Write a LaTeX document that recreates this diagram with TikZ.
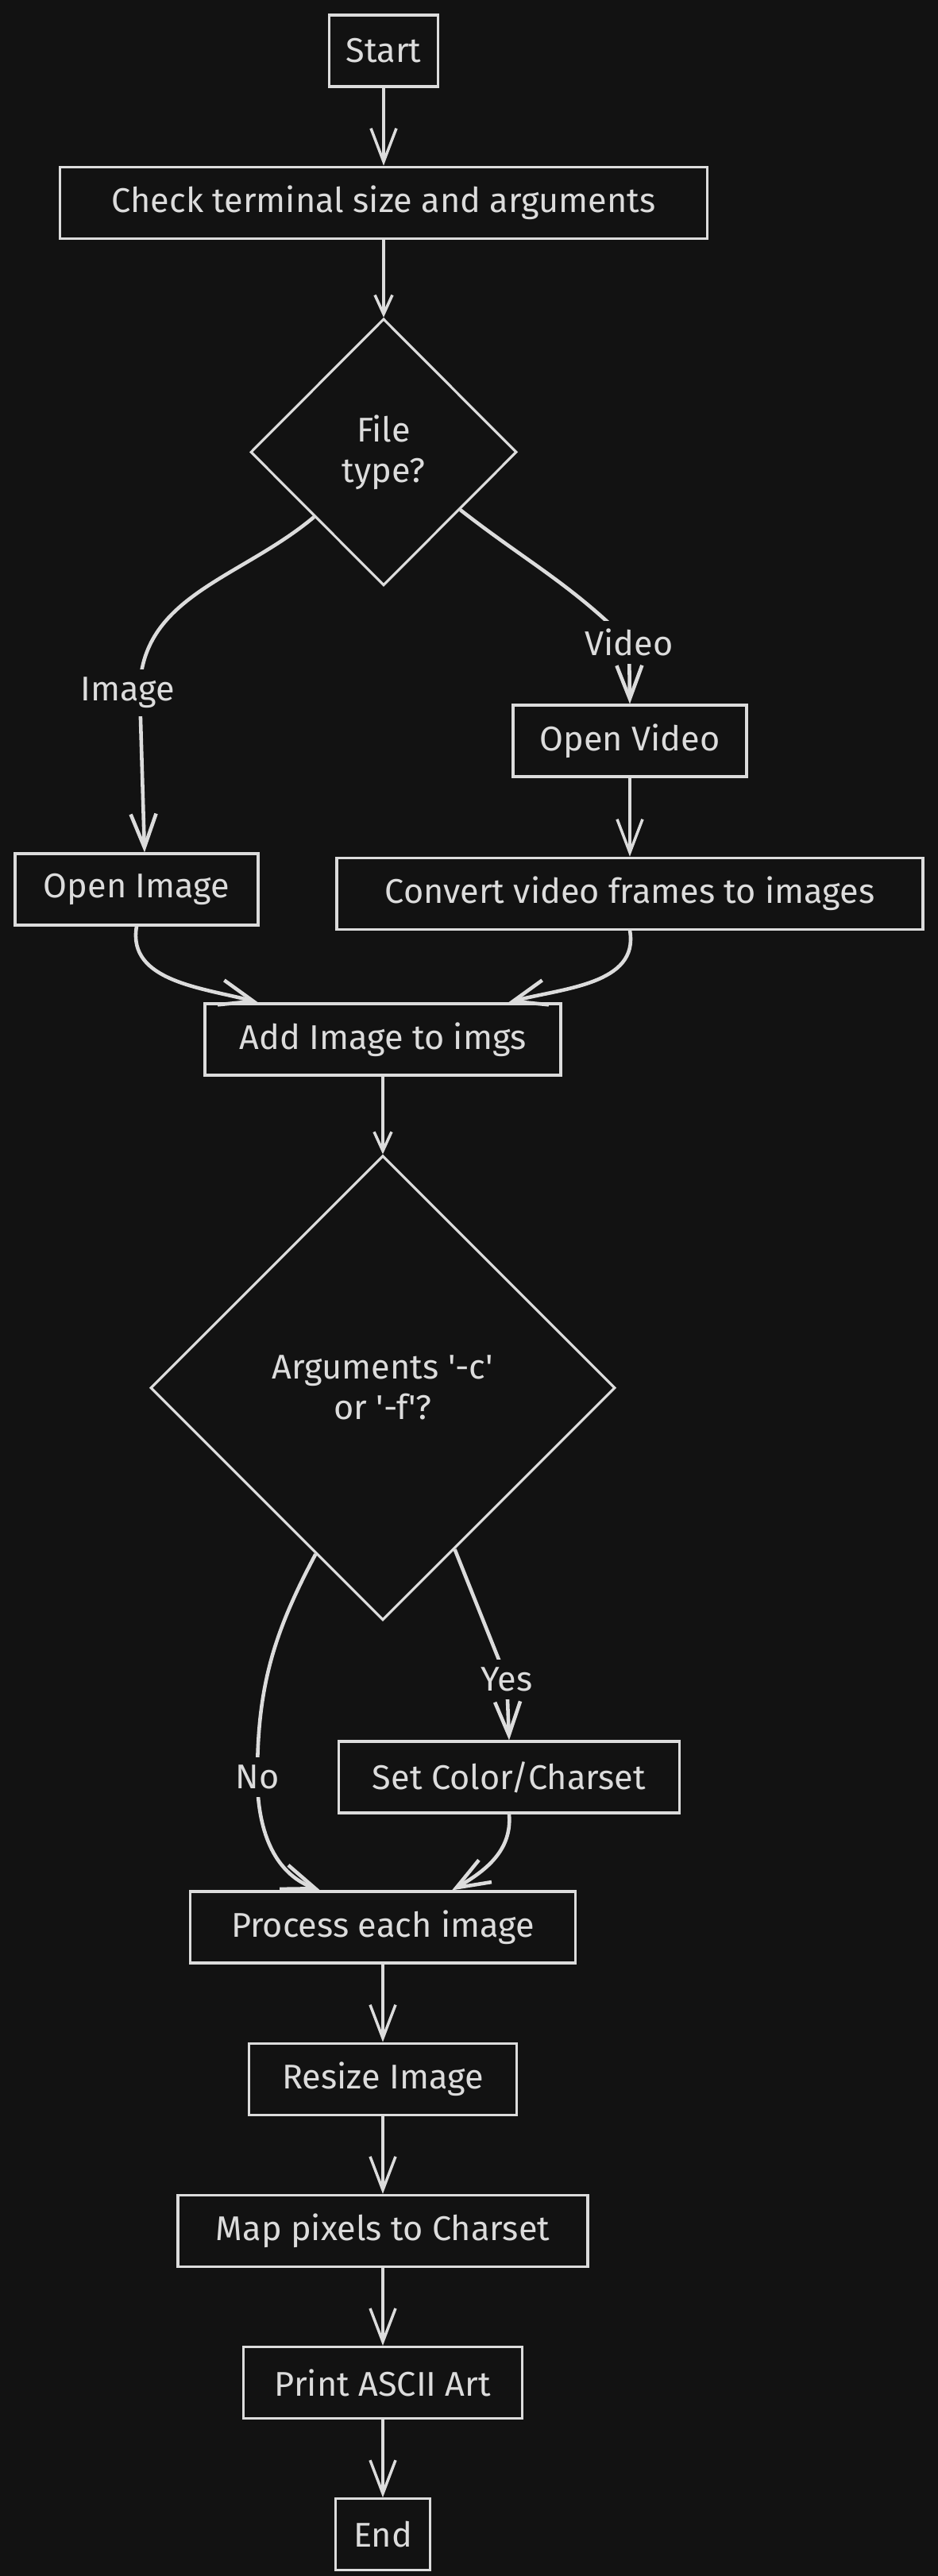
\documentclass[tikz,border=0pt]{standalone}
\usepackage{fontspec}
\setmainfont{Fira Sans}
\usetikzlibrary{arrows.meta,positioning,shapes.geometric}
\definecolor{bg}{HTML}{121212}
\definecolor{fg}{HTML}{DCDCDC}

\begin{document}
\begin{tikzpicture}[->,>={Straight Barb[length=4.2mm,width=3.2mm]},node distance=0.98cm,
line width=1pt,color=fg,
smalltip/.style={-{Straight Barb[length=2.4mm,width=2.2mm]}},
curvy/.style={line width=1.3pt}]
\tikzstyle{block}=[draw=fg,rectangle,line width=0.9pt,minimum height=0.9cm,inner sep=0pt,text=fg,font=\fontsize{12.3}{15}\selectfont]
\tikzstyle{decision}=[draw=fg,diamond,line width=0.9pt,inner sep=0pt,align=center,text=fg,font=\fontsize{12.3}{14.5}\selectfont]
\tikzstyle{lbl}=[fill=bg,inner sep=1mm,text=fg,font=\fontsize{12.3}{15}\selectfont]

\useasboundingbox (0,0) rectangle (11.81,-32.44);
\fill[bg] (0,0) rectangle (11.81,-32.44);

% main column
\node[block,minimum width=1.37cm]   (start)  at (4.83,-0.64) {Start};
\node[block,minimum width=8.15cm]   (check)  [below=of start] {Check terminal size and arguments};
\node[decision,minimum width=3.35cm,minimum height=3.36cm] (ftype) [below=of check] {File\\type?};

% the two branches
\node[block,minimum width=2.94cm]   (ovideo) at (7.93,-9.33) {Open Video};
\node[block,minimum width=7.38cm]   (conv)   [below=0.99cm of ovideo] {Convert video frames to images};
\node[block,minimum width=3.06cm]   (oimg)   at (1.72,-11.20) {Open Image};
\node[block,minimum width=4.48cm]   (add)    at (4.82,-13.09) {Add Image to imgs};

\node[decision,minimum width=5.85cm,minimum height=5.85cm] (args) [below=of add] {Arguments \textquotesingle-c\textquotesingle\\or \textquotesingle-f\textquotesingle?};
\node[block,minimum width=4.29cm]   (setcc)  at (6.41,-22.38) {Set Color/Charset};

\node[block,minimum width=4.85cm]   (proc)   at (4.82,-24.27) {Process each image};
\node[block,minimum width=3.37cm]   (resize) [below=of proc] {Resize Image};
\node[block,minimum width=5.16cm]   (map)    [below=of resize] {Map pixels to Charset};
\node[block,minimum width=3.51cm]   (print)  [below=of map] {Print ASCII Art};
\node[block,minimum width=1.19cm]   (end)    [below=of print] {End};

\path (start) edge (check)
(check) edge[smalltip] (ftype)
(ovideo) edge (conv)
(add) edge[smalltip] (args)
(proc) edge (resize)
(resize) edge (map)
(map) edge (print)
(print) edge (end);

% curved connectors with labels
\draw[curvy] (ftype.-137) to[out=-140,in=90] (1.76,-8.72) node[lbl,xshift=-1.5mm]{Image} -- ([xshift=1mm]oimg.north);
\draw[curvy] (ftype.-37) to[out=-38,in=135] (7.92,-8.09) node[lbl]{Video} -- (ovideo.north);
\draw[curvy] (oimg.south) to[out=-100,in=165] ([xshift=-1.57cm]add.north);
\draw[curvy] (conv.south) to[out=-80,in=15] ([xshift=1.58cm]add.north);
\draw[curvy] (args.-112) to[out=-118,in=90] (3.24,-22.38) node[lbl]{No} to[out=-90,in=160] ([xshift=-0.79cm]proc.north);
\draw[curvy] (args.-66) -- (6.38,-21.15) node[lbl]{Yes} -- (setcc.north);
\draw[curvy] (setcc.south) to[out=-85,in=30] ([xshift=0.87cm]proc.north);
\end{tikzpicture}
\end{document}
